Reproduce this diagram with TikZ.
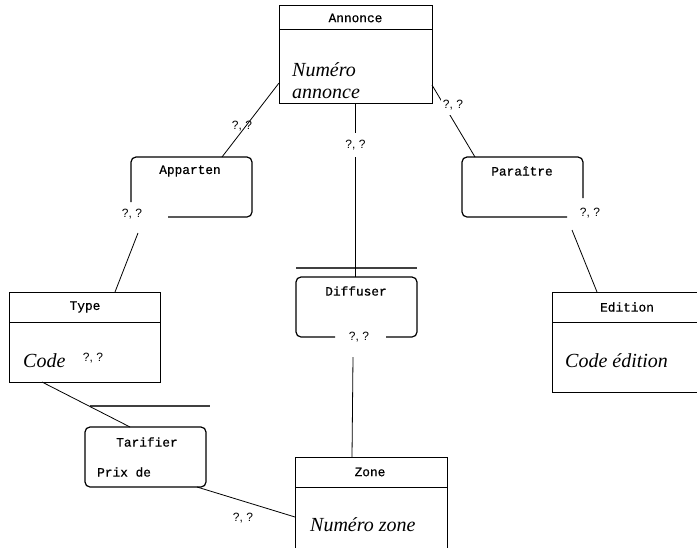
\documentclass[tikz,border=0pt]{standalone}
\usepackage{fontspec}
\setmainfont{Liberation Serif}
\newfontfamily\monof[FakeBold=0.6]{Liberation Mono}
\newfontfamily\cardf{Liberation Sans}
\begin{document}
\begin{tikzpicture}[x=1pt,y=-1pt,
  ent/.style={draw, line width=0.9pt, anchor=north west, inner sep=0pt, outer sep=0pt},
  relbox/.style={anchor=north west, inner sep=0pt, outer sep=0pt, minimum width=121pt, minimum height=60pt},
  rel/.style={line width=1.2pt, rounded corners=5pt},
  ttl/.style={font=\monof\fontsize{12.8}{14}\selectfont, inner sep=0pt},
  att/.style={font=\itshape\fontsize{20}{22}\selectfont, anchor=base west, inner sep=0pt},
  card/.style={font=\cardf\fontsize{12}{13}\selectfont, inner sep=1.5pt},
  lnk/.style={line width=0.8pt},
  bar/.style={line width=1.2pt, draw=black!75}]
\useasboundingbox (0,0) rectangle (697,547);
\fill[white] (0,0) rectangle (697,547);

% Entities
\node[ent, minimum width=153pt, minimum height=98pt] (annonce) at (279,5) {};
\draw[line width=0.9pt] ([yshift=-24pt]annonce.north west) -- ([yshift=-24pt]annonce.north east);
\node[ttl] (tannonce) at (355.5,18) {Annonce};
\node[att] (a1) at (292,76) {Numéro};
\node[att] (a2) at (292,98) {annonce};

\node[ent, minimum width=151pt, minimum height=90pt] (type) at (9,292) {};
\draw[line width=0.9pt] ([yshift=-30pt]type.north west) -- ([yshift=-30pt]type.north east);
\node[ttl] (ttype) at (85,307) {Type};
\node[att] (a3) at (23,367) {Code};
\node[card] (c4) at (93,358) {?, ?};

\node[ent, minimum width=152pt, minimum height=100pt] (edition) at (552,292) {};
\draw[line width=0.9pt] ([yshift=-30pt]edition.north west) -- ([yshift=-30pt]edition.north east);
\node[ttl] (tedition) at (627,307) {Edition};
\node[att] (a4) at (565,367) {Code édition};

\node[ent, minimum width=152pt, minimum height=100pt] (zone) at (295,457) {};
\draw[line width=0.9pt] ([yshift=-30pt]zone.north west) -- ([yshift=-30pt]zone.north east);
\node[ttl] (tzone) at (370,472) {Zone};
\node[att] (a5) at (310,531) {Numéro zone};

% Relations
\node[relbox] (apparten) at (131,157) {};
\draw[rel] ([yshift=15pt]apparten.south west) -- (apparten.north west) -- (apparten.north east) -- (apparten.south east) -- ([xshift=37pt]apparten.south west);
\node[ttl] (tapparten) at (190,171) {Apparten};

\node[relbox] (paraitre) at (462,157) {};
\draw[rel] ([yshift=19pt]paraitre.south east) -- (paraitre.north east) -- (paraitre.north west) -- (paraitre.south west) -- ([xshift=105pt]paraitre.south west);
\node[ttl] (tparaitre) at (522,171) {Paraître};

\node[relbox] (diffuser) at (296,277) {};
\draw[rel] ([xshift=39pt]diffuser.south west) -- (diffuser.south west) -- (diffuser.north west) -- (diffuser.north east) -- (diffuser.south east) -- ([xshift=-31pt]diffuser.south east);
\draw[bar] ([yshift=9pt]diffuser.north west) -- ([yshift=9pt]diffuser.north east);
\node[ttl] (tdiffuser) at (356,291) {Diffuser};

\node[relbox, draw, line width=1.2pt, rounded corners=5pt] (tarifier) at (85,427) {};
\draw[bar] (90,406) -- (210,406);
\node[ttl] (ttarifier) at (147,442) {Tarifier};
\node[ttl, anchor=west] (prix) at (97,472) {Prix de};

% Connectors
\draw[lnk] ([yshift=20pt]annonce.south west) -- ([xshift=91pt]apparten.north west);
\node[card] (c1) at (242,126) {?, ?};

\coordinate (pA) at ([yshift=18pt]annonce.south east);
\coordinate (pB) at ([xshift=13pt]paraitre.north west);
\draw[lnk] (pA) -- (pB);
\node[card, fill=white, inner ysep=5pt] (c2) at (453,105) {?, ?};

\draw[lnk] (annonce.south) -- (annonce.south |- diffuser.north);
\node[card, fill=white, inner ysep=7pt] (c3) at (355.5,145) {?, ?};

\node[card] (c5) at (132,214) {?, ?};
\draw[lnk] ([xshift=7pt,yshift=-16pt]apparten.south west) -- ([xshift=106pt]type.north west);

\node[card] (c6) at (590,213) {?, ?};
\draw[lnk] ([xshift=110pt,yshift=-13pt]paraitre.south west) -- ([xshift=45pt]edition.north west);

\node[card] (c7) at (359,337) {?, ?};
\draw[lnk] ([xshift=57pt,yshift=-20pt]diffuser.south west) -- ([xshift=57pt]zone.north west);

\draw[lnk] ([xshift=33pt]type.south west) -- ([xshift=45pt]tarifier.north west);

\draw[lnk] ([xshift=-9pt]tarifier.south east) -- ([yshift=-60pt]zone.north west);
\node[card] (c8) at (243,518) {?, ?};
\end{tikzpicture}
\end{document}
